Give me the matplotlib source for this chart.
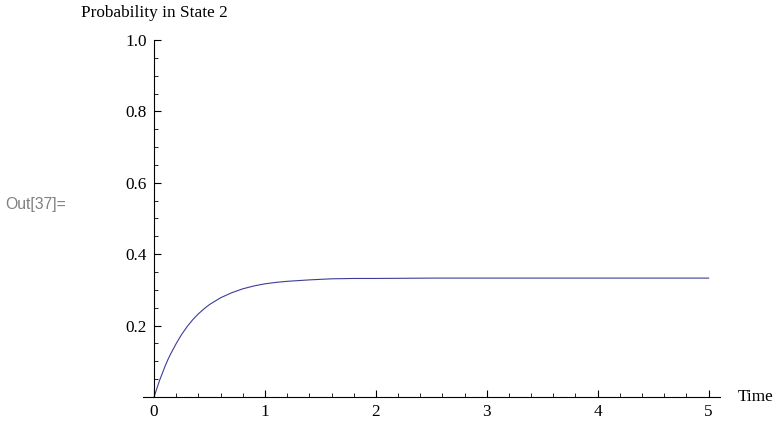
import numpy as np
import matplotlib.pyplot as plt
from matplotlib.ticker import MultipleLocator

# curve (time, probability in state 2)
time = [0, 0.025, 0.05, 0.075, 0.1, 0.125, 0.15, 0.2, 0.25, 0.3, 0.35, 0.4,
        0.45, 0.5, 0.6, 0.7, 0.8, 0.9, 1.0, 1.1, 1.2, 1.4, 1.6, 1.8, 2.0,
        2.5, 3.0, 4.0, 5.0]
prob = [0, 0.024, 0.047, 0.067, 0.087, 0.105, 0.121, 0.150, 0.176, 0.198,
        0.217, 0.233, 0.247, 0.259, 0.278, 0.292, 0.303, 0.311, 0.317, 0.321,
        0.324, 0.328, 0.331, 0.332, 0.332, 0.333, 0.333, 0.333, 0.333]

x_ticks = [0, 1, 2, 3, 4, 5]
y_ticks = [0.2, 0.4, 0.6, 0.8, 1.0]

serif = "Liberation Serif"
fs = 12.4

fig = plt.figure(figsize=(7.73, 4.23), dpi=100)
ax = fig.add_axes([0.185, 0.0615, 0.746, 0.844])

ax.plot(time, prob, color="#3d3d99", lw=0.8)

ax.set_xlim(-0.1, 5.1)
ax.set_ylim(0, 1.0)
ax.spines["top"].set_visible(False)
ax.spines["right"].set_visible(False)
ax.spines["left"].set_position(("data", 0))
ax.spines["left"].set_bounds(0, 1.0)
for s in ("left", "bottom"):
    ax.spines[s].set_linewidth(0.8)

ax.set_xticks(x_ticks)
ax.set_yticks(y_ticks)
ax.set_yticklabels([f"{v:.1f}" for v in y_ticks])
ax.xaxis.set_minor_locator(MultipleLocator(0.2))
ax.yaxis.set_minor_locator(MultipleLocator(0.05))
ax.tick_params(which="major", direction="in", length=5, width=0.8,
               labelsize=fs, pad=5)
ax.tick_params(which="minor", direction="in", length=3, width=0.6)
ax.tick_params(axis="y", which="both", pad=5.5)
for lab in ax.get_xticklabels() + ax.get_yticklabels():
    lab.set_fontfamily(serif)

ax.annotate("Time", xy=(1, 0), xycoords="axes fraction", xytext=(18, 0),
            textcoords="offset pixels", ha="left", va="center",
            fontsize=fs, family=serif)
fig.text(81 / 773, 1 - 13 / 423, "Probability in State 2", ha="left",
         va="center", fontsize=fs, family=serif)
fig.text(5 / 773, 1 - 205 / 423, "Out[37]=", ha="left", va="center",
         fontsize=11.3, family="Liberation Sans", color="#808080")

fig.savefig("out.png", dpi=100)
